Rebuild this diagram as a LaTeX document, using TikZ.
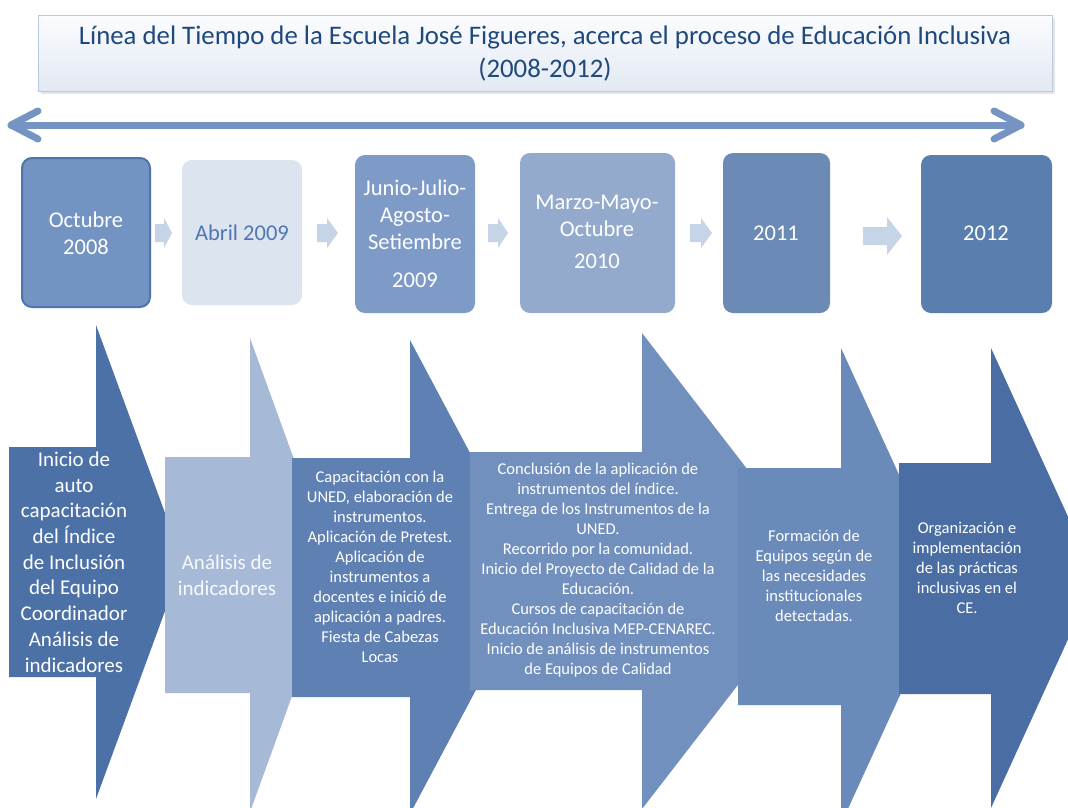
\documentclass[tikz,border=0pt]{standalone}
\usepackage{fontspec}
\setmainfont{Carlito}
\usetikzlibrary{calc}
\definecolor{titletxt}{HTML}{1F497D}
\definecolor{titleborder}{HTML}{B8C9E1}
\definecolor{titletop}{HTML}{FBFCFE}
\definecolor{titlebot}{HTML}{E2E9F3}
\definecolor{tlcol}{HTML}{7694C3}
\definecolor{smallarr}{HTML}{C6D4E8}
\definecolor{boxA}{HTML}{7393C2}
\definecolor{boxAb}{HTML}{4E74AB}
\definecolor{boxB}{HTML}{DCE4F0}
\definecolor{boxBtxt}{HTML}{4F77B0}
\definecolor{boxC}{HTML}{7E9BC8}
\definecolor{boxD}{HTML}{93AACC}
\definecolor{boxE}{HTML}{6B8BB6}
\definecolor{boxF}{HTML}{5A7EAE}
\definecolor{arrA}{HTML}{4C71A6}
\definecolor{arrB}{HTML}{A6BAD7}
\definecolor{arrC}{HTML}{5F80B2}
\definecolor{arrD}{HTML}{7190BE}
\definecolor{arrE}{HTML}{6A8ABA}
\definecolor{arrF}{HTML}{4A6EA3}
\tikzset{
  yearbox/.style={rounded corners=10pt},
  bigtxt/.style={align=center, text=white, font=\fontsize{21}{25.7}\selectfont},
  smalltxt/.style={align=center, text=white, font=\fontsize{16.5}{20}\selectfont},
  yeartxt/.style={align=center, text=white, font=\fontsize{22.5}{27}\selectfont},
  timeline/.style={line width=7pt, color=tlcol, line cap=round, line join=round},
}
\begin{document}
\begin{tikzpicture}[x=1pt,y=-1pt]
\useasboundingbox (0,0) rectangle (1068,807);
\fill[white] (0,0) rectangle (1068,807);
\begin{scope}
\clip (0,0) rectangle (1068,807);

% title
\fill[black!10] (41,18) rectangle (1055,94);
\shade[top color=titletop, bottom color=titlebot, draw=titleborder, line width=1pt] (38,15) rectangle (1052,91);
\node[align=center, text=titletxt, font=\fontsize{26.8}{33}\selectfont] (title) at (545,54)
  {Línea del Tiempo de la Escuela José Figueres, acerca el proceso de Educación Inclusiva\\(2008-2012)};

% timeline double arrow
\coordinate (tlL) at (11,125);
\coordinate (tlR) at (1021,125);
\draw[timeline] (tlL) -- (tlR);
\draw[timeline] ($(tlL)+(27,-14)$) -- (tlL) -- ($(tlL)+(27,14)$);
\draw[timeline] ($(tlR)+(-27,-14)$) -- (tlR) -- ($(tlR)+(-27,14)$);

% year boxes
\fill[boxA, draw=boxAb, line width=2pt, yearbox] (22,158) rectangle (150,307);
\fill[boxB, yearbox] (182,160) rectangle (302,305);
\fill[boxC, yearbox] (355,155) rectangle (475,313);
\fill[boxD, yearbox] (520,153) rectangle (675,313);
\fill[boxE, yearbox] (723,153) rectangle (830,313);
\fill[boxF, yearbox] (921,155) rectangle (1052,313);

\node[yeartxt] (y1) at (86,233) {Octubre\\2008};
\node[yeartxt, text=boxBtxt] (y2) at (242,233) {Abril 2009};
\node[yeartxt] (y3) at (415,234) {Junio-Julio-\\Agosto-\\Setiembre\\[11pt]2009};
\node[yeartxt] (y4) at (597,232) {Marzo-Mayo-\\Octubre\\[5pt]2010};
\node[yeartxt] (y5) at (776,233) {2011};
\node[yeartxt] (y6) at (986,233) {2012};

% small arrows between year boxes
\fill[smallarr] (155,224) -- (164,224) -- (164,218) -- (172,233) -- (164,248) -- (164,242) -- (155,242) -- cycle;
\fill[smallarr] (317,224) -- (327,224) -- (327,218) -- (338,233) -- (327,248) -- (327,242) -- (317,242) -- cycle;
\fill[smallarr] (488,224) -- (498,224) -- (498,218) -- (508,233) -- (498,248) -- (498,242) -- (488,242) -- cycle;
\fill[smallarr] (690,224) -- (701,224) -- (701,218) -- (712,233) -- (701,248) -- (701,242) -- (690,242) -- cycle;
\fill[smallarr] (863,227) -- (887,227) -- (887,217) -- (902,236) -- (887,255) -- (887,245) -- (863,245) -- cycle;

% bottom chevron arrows
\fill[arrA] (9,447) -- (96,447) -- (96,325) -- (183,562) -- (96,799) -- (96,677) -- (9,677) -- cycle;
\fill[arrB] (165,457) -- (250,457) -- (250,338) -- (336,575) -- (250,812) -- (250,693) -- (165,693) -- cycle;
\fill[arrC] (292,458) -- (410,458) -- (410,340) -- (536,577) -- (410,814) -- (410,697) -- (292,697) -- cycle;
\fill[arrD] (470,452) -- (642,452) -- (642,333) -- (826,571) -- (642,809) -- (642,690) -- (470,690) -- cycle;
\fill[arrE] (738,468) -- (841,468) -- (841,348) -- (950,586) -- (841,824) -- (841,705) -- (738,705) -- cycle;
\fill[arrF] (899,463) -- (991,463) -- (991,348) -- (1096,578) -- (991,808) -- (991,694) -- (899,694) -- cycle;

\node[bigtxt] (t1) at (74,562) {Inicio de\\auto\\capacitación\\del Índice\\de Inclusión\\del Equipo\\Coordinador\\Análisis de\\indicadores};
\node[bigtxt, text=white!92!arrB] (t2) at (227,575) {Análisis de\\indicadores};
\node[smalltxt] (t3) at (380,567) {Capacitación con la\\UNED, elaboración de\\instrumentos.\\Aplicación de Pretest.\\Aplicación de\\instrumentos a\\docentes e inició de\\aplicación a padres.\\Fiesta de Cabezas\\Locas};
\node[smalltxt] (t4) at (598,570) {Conclusión de la aplicación de\\instrumentos del índice.\\Entrega de los Instrumentos de la\\UNED.\\Recorrido por la comunidad.\\Inicio del Proyecto de Calidad de la\\Educación.\\Cursos de capacitación de\\Educación Inclusiva MEP-CENAREC.\\Inicio de análisis de instrumentos\\de Equipos de Calidad};
\node[smalltxt] (t5) at (814,576) {Formación de\\Equipos según de\\las necesidades\\institucionales\\detectadas.};
\node[smalltxt] (t6) at (967,568) {Organización e\\implementación\\de las prácticas\\inclusivas en el\\CE.};
\end{scope}
\end{tikzpicture}
\end{document}
